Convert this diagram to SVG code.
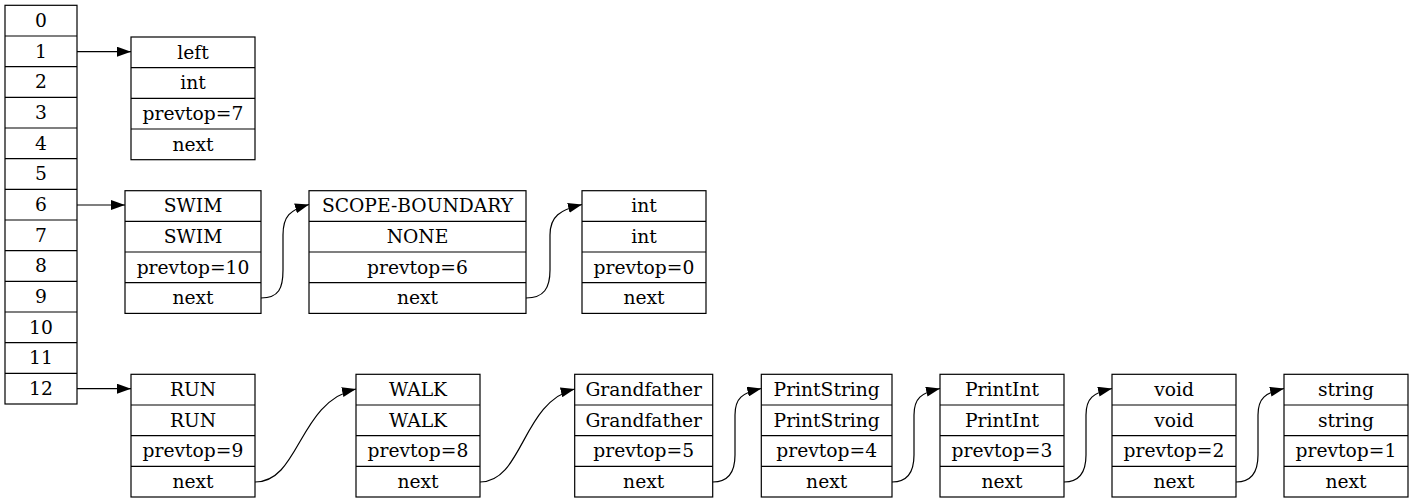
<svg xmlns="http://www.w3.org/2000/svg" width="1413" height="503" viewBox="0 0 1413 503">
  <style>
    .box { fill: #ffffff; stroke: #000000; stroke-width: 1.2; }
    .sep { stroke: #000000; stroke-width: 1.2; }
    text { font-family: "DejaVu Serif", "Liberation Serif", serif; font-size: 18.7px; fill: #000000; text-anchor: middle; }
    .edge { fill: none; stroke: #000000; stroke-width: 1.2; marker-end: url(#arrow); }
  </style>
  <defs>
    <marker id="arrow" markerUnits="userSpaceOnUse" viewBox="0 0 14 10" refX="14" refY="5" markerWidth="14" markerHeight="10" orient="auto">
      <path d="M0,0 L14,5 L0,10 z" fill="#000000"/>
    </marker>
  </defs>
  <rect width="1413" height="503" fill="#ffffff"/>

  <!-- scope stack array -->
  <g id="stack">
    <rect class="box" x="5" y="5.3" width="72" height="398.7"/>
    <path class="sep" d="M5,36 H77 M5,66.7 H77 M5,97.3 H77 M5,128 H77 M5,158.7 H77 M5,189.3 H77 M5,220 H77 M5,250.7 H77 M5,281.3 H77 M5,312 H77 M5,342.7 H77 M5,373.3 H77"/>
    <text x="41" y="27">0</text>
    <text x="41" y="57.7">1</text>
    <text x="41" y="88.3">2</text>
    <text x="41" y="119">3</text>
    <text x="41" y="149.7">4</text>
    <text x="41" y="180.3">5</text>
    <text x="41" y="211">6</text>
    <text x="41" y="241.7">7</text>
    <text x="41" y="272.3">8</text>
    <text x="41" y="303">9</text>
    <text x="41" y="333.7">10</text>
    <text x="41" y="364.3">11</text>
    <text x="41" y="395">12</text>
  </g>

  <!-- bucket 1 -->
  <g id="rec-left">
    <rect class="box" x="131" y="37" width="124" height="122.7"/>
    <path class="sep" d="M131,67.7 H255 M131,98.3 H255 M131,129 H255"/>
    <text x="193" y="58.6">left</text>
    <text x="193" y="89.3">int</text>
    <text x="193" y="120">prevtop=7</text>
    <text x="193" y="150.6">next</text>
  </g>

  <!-- bucket 6 chain -->
  <g id="rec-swim">
    <rect class="box" x="125" y="190.7" width="136" height="122.7"/>
    <path class="sep" d="M125,221.3 H261 M125,252 H261 M125,282.7 H261"/>
    <text x="193" y="212.3">SWIM</text>
    <text x="193" y="243">SWIM</text>
    <text x="193" y="273.6">prevtop=10</text>
    <text x="193" y="304.3">next</text>
  </g>
  <g id="rec-scope">
    <rect class="box" x="309" y="190.7" width="217" height="122.7"/>
    <path class="sep" d="M309,221.3 H526 M309,252 H526 M309,282.7 H526"/>
    <text x="417.5" y="212.3">SCOPE-BOUNDARY</text>
    <text x="417.5" y="243">NONE</text>
    <text x="417.5" y="273.6">prevtop=6</text>
    <text x="417.5" y="304.3">next</text>
  </g>
  <g id="rec-int">
    <rect class="box" x="582" y="190.7" width="124" height="122.7"/>
    <path class="sep" d="M582,221.3 H706 M582,252 H706 M582,282.7 H706"/>
    <text x="644" y="212.3">int</text>
    <text x="644" y="243">int</text>
    <text x="644" y="273.6">prevtop=0</text>
    <text x="644" y="304.3">next</text>
  </g>

  <!-- bucket 12 chain -->
  <g id="rec-run">
    <rect class="box" x="131" y="374.3" width="124" height="122.7"/>
    <path class="sep" d="M131,405 H255 M131,435.7 H255 M131,466.3 H255"/>
    <text x="193" y="396">RUN</text>
    <text x="193" y="426.6">RUN</text>
    <text x="193" y="457.3">prevtop=9</text>
    <text x="193" y="488">next</text>
  </g>
  <g id="rec-walk">
    <rect class="box" x="356" y="374.3" width="124" height="122.7"/>
    <path class="sep" d="M356,405 H480 M356,435.7 H480 M356,466.3 H480"/>
    <text x="418" y="396">WALK</text>
    <text x="418" y="426.6">WALK</text>
    <text x="418" y="457.3">prevtop=8</text>
    <text x="418" y="488">next</text>
  </g>
  <g id="rec-grandfather">
    <rect class="box" x="574.7" y="374.3" width="138" height="122.7"/>
    <path class="sep" d="M574.7,405 H712.7 M574.7,435.7 H712.7 M574.7,466.3 H712.7"/>
    <text x="643.7" y="396">Grandfather</text>
    <text x="643.7" y="426.6">Grandfather</text>
    <text x="643.7" y="457.3">prevtop=5</text>
    <text x="643.7" y="488">next</text>
  </g>
  <g id="rec-printstring">
    <rect class="box" x="761.3" y="374.3" width="130.7" height="122.7"/>
    <path class="sep" d="M761.3,405 H892 M761.3,435.7 H892 M761.3,466.3 H892"/>
    <text x="826.7" y="396">PrintString</text>
    <text x="826.7" y="426.6">PrintString</text>
    <text x="826.7" y="457.3">prevtop=4</text>
    <text x="826.7" y="488">next</text>
  </g>
  <g id="rec-printint">
    <rect class="box" x="940" y="374.3" width="124" height="122.7"/>
    <path class="sep" d="M940,405 H1064 M940,435.7 H1064 M940,466.3 H1064"/>
    <text x="1002" y="396">PrintInt</text>
    <text x="1002" y="426.6">PrintInt</text>
    <text x="1002" y="457.3">prevtop=3</text>
    <text x="1002" y="488">next</text>
  </g>
  <g id="rec-void">
    <rect class="box" x="1112" y="374.3" width="124" height="122.7"/>
    <path class="sep" d="M1112,405 H1236 M1112,435.7 H1236 M1112,466.3 H1236"/>
    <text x="1174" y="396">void</text>
    <text x="1174" y="426.6">void</text>
    <text x="1174" y="457.3">prevtop=2</text>
    <text x="1174" y="488">next</text>
  </g>
  <g id="rec-string">
    <rect class="box" x="1284" y="374.3" width="124" height="122.7"/>
    <path class="sep" d="M1284,405 H1408 M1284,435.7 H1408 M1284,466.3 H1408"/>
    <text x="1346" y="396">string</text>
    <text x="1346" y="426.6">string</text>
    <text x="1346" y="457.3">prevtop=1</text>
    <text x="1346" y="488">next</text>
  </g>

  <!-- links -->
  <g id="edges">
    <path class="edge" d="M77,51.7 H131"/>
    <path class="edge" d="M77,205 H125"/>
    <path class="edge" d="M77,388.7 H131"/>
    <path class="edge" d="M261,298 C279,298 283,288 283,270 L283,235 C283,216 290,210 309,204.5"/>
    <path class="edge" d="M526,298 C544,298 550,288 550,270 L550,235 C550,216 560,210 582,204.5"/>
    <path class="edge" d="M255,482 C300,482 298,402 356,389"/>
    <path class="edge" d="M480,482 C523,482 522,402 574.7,389"/>
    <path class="edge" d="M712.7,482 C729,482 735,472 735,455 L735,415 C735,398 742,393 761.3,388.5"/>
    <path class="edge" d="M892,482 C908,482 914,472 914,455 L914,415 C914,398 921,393 940,388.5"/>
    <path class="edge" d="M1064,482 C1080,482 1086,472 1086,455 L1086,415 C1086,398 1093,393 1112,388.5"/>
    <path class="edge" d="M1236,482 C1252,482 1258,472 1258,455 L1258,415 C1258,398 1265,393 1284,388.5"/>
  </g>
</svg>
